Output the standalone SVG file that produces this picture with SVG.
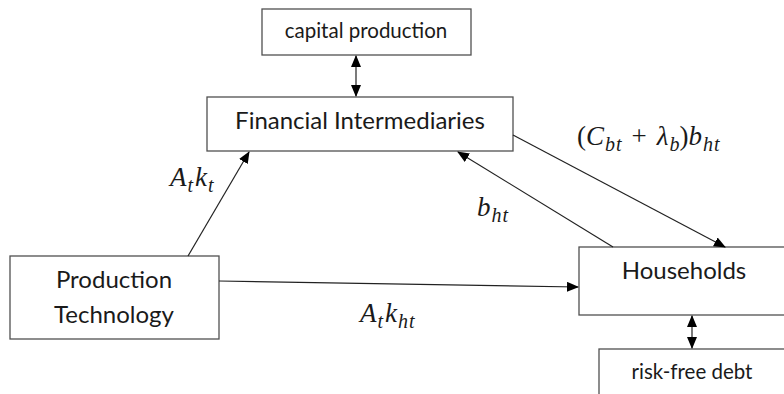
<svg xmlns="http://www.w3.org/2000/svg" width="784" height="394" viewBox="0 0 784 394">
  <style>
    .box { fill: #ffffff; stroke: #505050; stroke-width: 1.3; }
    .lbl { font-family: Lato, "Open Sans", "Liberation Sans", sans-serif; fill: #1a1a1a; text-anchor: middle; }
    .big { font-size: 24px; }
    .small { font-size: 20.5px; }
    .m { font-family: "Liberation Serif", "DejaVu Serif", serif; font-style: italic; font-size: 27px; fill: #1a1a1a; }
    .sub { font-size: 20px; }
    .up { font-style: normal; }
    .edge { stroke: #222222; stroke-width: 1.2; fill: none; }
  </style>
  <defs>
    <marker id="ah" markerUnits="userSpaceOnUse" markerWidth="12" markerHeight="10" refX="11" refY="5" orient="auto-start-reverse" viewBox="0 0 12 10">
      <path d="M0,0 L12,5 L0,10 Z" fill="#000000"/>
    </marker>
  </defs>
  <rect width="784" height="394" fill="#ffffff"/>

  <g id="capital-production">
    <rect class="box" x="262" y="9" width="209" height="46"/>
    <text class="lbl small" x="366" y="38">capital production</text>
  </g>
  <g id="financial-intermediaries">
    <rect class="box" x="207" y="97" width="306" height="54"/>
    <text class="lbl big" x="360" y="129">Financial Intermediaries</text>
  </g>
  <g id="production-technology">
    <rect class="box" x="10" y="256" width="209" height="83"/>
    <text class="lbl big" x="114" y="288">Production</text>
    <text class="lbl big" x="114" y="323">Technology</text>
  </g>
  <g id="households">
    <rect class="box" x="579" y="247" width="215" height="68"/>
    <text class="lbl big" x="684" y="279">Households</text>
  </g>
  <g id="risk-free-debt">
    <rect class="box" x="599" y="349" width="195" height="60"/>
    <text class="lbl small" x="692" y="379">risk-free debt</text>
  </g>

  <g id="connectors">
    <line class="edge" x1="356" y1="56" x2="356" y2="96" marker-start="url(#ah)" marker-end="url(#ah)"/>
    <line class="edge" x1="188" y1="256" x2="249" y2="152" marker-end="url(#ah)"/>
    <line class="edge" x1="219" y1="281" x2="578" y2="287" marker-end="url(#ah)"/>
    <line class="edge" x1="513" y1="135" x2="725" y2="247" marker-end="url(#ah)"/>
    <line class="edge" x1="613" y1="247" x2="458" y2="152" marker-end="url(#ah)"/>
    <line class="edge" x1="692" y1="316" x2="692" y2="348" marker-start="url(#ah)" marker-end="url(#ah)"/>
  </g>

  <g id="labels">
    <text class="m" x="170" y="186">A<tspan class="sub" dx="1" dy="6">t</tspan><tspan dx="2" dy="-6">k</tspan><tspan class="sub" dx="1" dy="6">t</tspan></text>
    <text class="m" x="360" y="322">A<tspan class="sub" dx="1" dy="6">t</tspan><tspan dx="2" dy="-6">k</tspan><tspan class="sub" dx="1" dy="6" letter-spacing="1">ht</tspan></text>
    <text class="m" x="477" y="216">b<tspan class="sub" dx="1" dy="6" letter-spacing="1">ht</tspan></text>
    <text class="m" x="577" y="145"><tspan class="up">(</tspan>C<tspan class="sub" dx="1" dy="6" letter-spacing="1">bt</tspan><tspan class="up" dx="9" dy="-6">+</tspan><tspan dx="10">λ</tspan><tspan class="sub" dx="1" dy="6">b</tspan><tspan class="up" dy="-6">)</tspan>b<tspan class="sub" dx="1" dy="6" letter-spacing="1">ht</tspan></text>
  </g>
</svg>
